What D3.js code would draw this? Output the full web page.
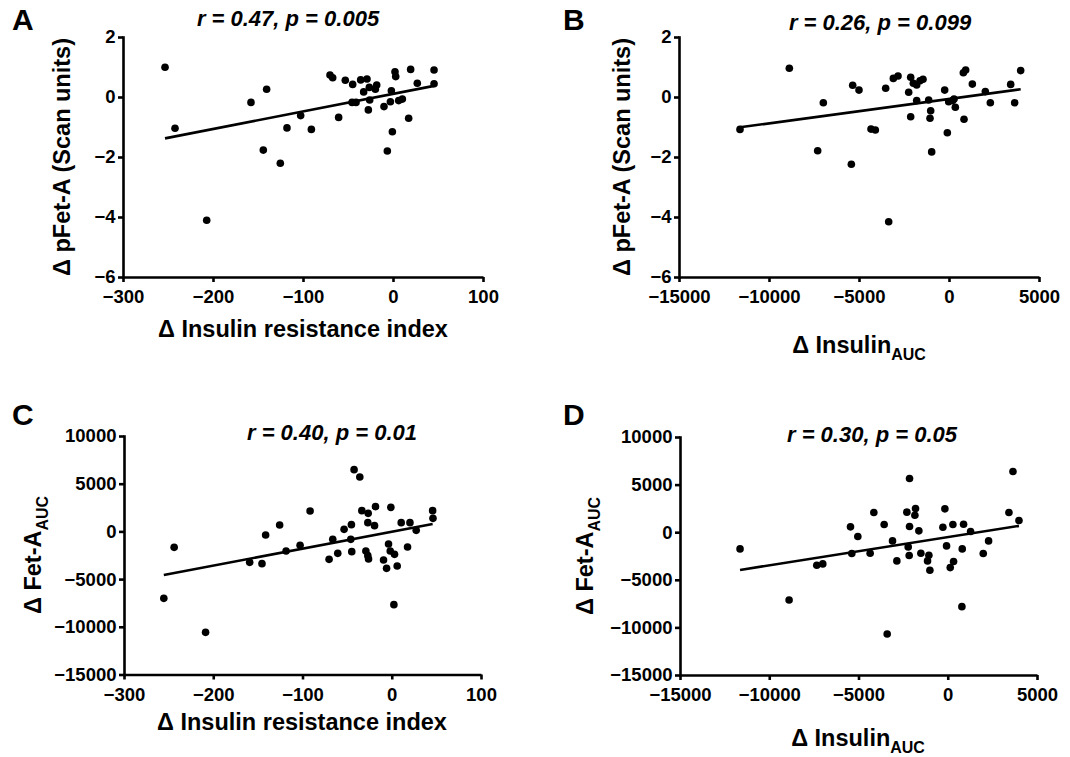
<!DOCTYPE html>
<html><head><meta charset="utf-8">
<script src="https://cdn.jsdelivr.net/npm/d3@7"></script>
<style>
body{margin:0;background:#fff;}
text{font-family:"Liberation Sans",Arial,sans-serif;font-weight:bold;fill:#000;}
</style></head>
<body><svg id="c" width="1070" height="757"></svg>
<script>
// ---- data ----
const irA = [-253.3,-242.2,-207.0,-157.8,-140.4,-144.1,-125.2,-117.8,-102.6,-90.7,-70.0,-67.0,-60.4,-53.0,-44.8,-45.5,-41.1,-35.9,-28.9,-32.6,-26.3,-18.1,-19.6,-25.9,-27.4,-10.0,-6.3,-1.8,-2.9,-0.7,2.2,3.0,6.3,10.4,17.4,19.6,27.0,45.6,45.6];
const pfetA = [0.99,-1.04,-4.11,-0.18,0.26,-1.77,-2.21,-1.03,-0.62,-1.08,0.73,0.64,-0.68,0.56,0.42,-0.18,-0.18,0.57,0.60,0.17,0.32,0.40,0.26,-0.10,-0.43,-0.32,-1.80,0.21,-0.16,-1.16,0.84,0.68,-0.12,-0.07,-0.71,0.92,0.46,0.90,0.44];
const fitA = [[-253.3,-1.38],[45.6,0.37]];

const aucB = [-11611,-8870,-6981,-7296,-5425,-5351,-5000,-4333,-4092,-3518,-3351,-3092,-2832,-2240,-2129,-2129,-1981,-1796,-1610,-1444,-1796,-1129,-1018,-1055,-962,-240,-92,-18,204,352,278,797,926,834,1297,2019,2297,3427,3649,3982];
const pfetB = [-1.08,0.96,-0.19,-1.79,-2.24,0.39,0.23,-1.07,-1.10,0.29,-4.16,0.62,0.70,0.16,0.66,-0.66,0.46,0.40,0.54,0.59,-0.12,-0.10,-0.46,-0.71,-1.83,0.23,-1.19,-0.16,-0.12,-0.34,-0.07,0.81,0.90,-0.74,0.43,0.18,-0.19,0.42,-0.19,0.88];
const fitB = [[-11611,-1.01],[3982,0.26]];

const irC = [-243.8,-255.4,-208.6,-159.2,-145.4,-141.3,-125.6,-118.4,-102.7,-91.5,-70.2,-66.1,-60.5,-53.4,-45.2,-45.9,-44.8,-42.2,-35.8,-33.5,-26.4,-18.2,-26.8,-19.3,-29.0,-26.0,-26.8,-9.2,-5.8,-3.6,-1.0,-1.7,3.1,2.4,6.1,10.6,20.4,17.7,27.4,45.8,46.2];
const fetC = [-1670,-7016,-10580,-3242,-3382,-377,671,-2054,-1460,2139,-2928,-832,-2299,217,706,-832,-2124,6471,5702,2174,1894,2593,916,601,-2054,-2893,-2543,-2998,-3871,-1320,2523,-2054,-2404,-7680,-3626,916,916,-1635,112,2174,1370];
const fitC = [[-255.4,-4570],[45.8,776]];

const aucD = [-11636,-8888,-7337,-7001,-5449,-5375,-5038,-4347,-4141,-3562,-3393,-3094,-2851,-2290,-2141,-2141,-2216,-2160,-1805,-1842,-1618,-1506,-1057,-1132,-1001,-272,-160,-67,139,326,288,812,793,886,1279,1989,2288,3428,3653,3990];
const fetD = [-1753,-7117,-3471,-3331,561,-2244,-456,-2209,2069,806,-10693,-912,-3015,2104,5645,596,-1543,-2454,2489,1788,140,-2209,-2419,-3015,-3997,526,2454,-1437,-3716,-3085,806,-1753,-7818,841,70,-2244,-912,2069,6381,1227];
const fitD = [[-11636,-3962],[3990,666]];

const ticksIR = [-300,-200,-100,0,100];
const ticksAUC = [-15000,-10000,-5000,0,5000];
const ticksPfet = [-6,-4,-2,0,2];
const ticksFet = [-15000,-10000,-5000,0,5000,10000];

const letters = ["A","B","C","D"];
const stats = ["r = 0.47, p = 0.005","r = 0.26, p = 0.099","r = 0.40, p = 0.01","r = 0.30, p = 0.05"];

// ---- layout ----
const svg = d3.select("#c");
const panels = [
  {x:irA, y:pfetA, fit:fitA, xd:[-300,100], yd:[-6,2], xt:ticksIR, yt:ticksPfet,
   px:[123,483], py:[277,37], letter:[12,30], stat:[288,26], ylab:[62,157], xlab:[303,337],
   xtitle:[["Δ Insulin resistance index",""]], ytitle:[["Δ pFet-A (Scan units)",""]]},
  {x:aucB, y:pfetB, fit:fitB, xd:[-15000,5000], yd:[-6,2], xt:ticksAUC, yt:ticksPfet,
   px:[679,1039], py:[277,37], letter:[563,30], stat:[880,30], ylab:[622,157], xlab:[859,353],
   xtitle:[["Δ Insulin",""],["AUC","sub"]], ytitle:[["Δ pFet-A (Scan units)",""]]},
  {x:irC, y:fetC, fit:fitC, xd:[-300,100], yd:[-15000,10000], xt:ticksIR, yt:ticksFet,
   px:[124,481], py:[674.5,436], letter:[12,425], stat:[332,440], ylab:[33,555], xlab:[302,730],
   xtitle:[["Δ Insulin resistance index",""]], ytitle:[["Δ Fet-A",""],["AUC","sub"]]},
  {x:aucD, y:fetD, fit:fitD, xd:[-15000,5000], yd:[-15000,10000], xt:ticksAUC, yt:ticksFet,
   px:[680,1037], py:[675,437], letter:[563,425], stat:[872,442], ylab:[585,556], xlab:[858,746],
   xtitle:[["Δ Insulin",""],["AUC","sub"]], ytitle:[["Δ Fet-A",""],["AUC","sub"]]}
];

function addRich(sel, parts, size){
  parts.forEach(([t,k])=>{
    const ts = sel.append("tspan").text(t);
    if(k==="sub"){ ts.attr("font-size", size*0.68).attr("dy", size*0.28); }
  });
}

panels.forEach((p,i)=>{
  const xs = d3.scaleLinear().domain(p.xd).range(p.px);
  const ys = d3.scaleLinear().domain(p.yd).range(p.py);
  const g = svg.append("g");

  const xa = g.append("g").attr("transform",`translate(0,${p.py[0]})`)
    .call(d3.axisBottom(xs).tickValues(p.xt).tickSize(5).tickSizeOuter(0).tickPadding(8).tickFormat(d3.format("d")));
  const ya = g.append("g").attr("transform",`translate(${p.px[0]},0)`)
    .call(d3.axisLeft(ys).tickValues(p.yt).tickSize(5).tickSizeOuter(0).tickPadding(2.5).tickFormat(d3.format("d")));
  [xa,ya].forEach(a=>{
    a.selectAll("path,line").attr("stroke","#000").attr("stroke-width",2.6);
    a.selectAll("text").attr("font-size",18.5).attr("font-family","Liberation Sans, Arial, sans-serif").attr("font-weight","bold").attr("fill","#000");
  });
  ya.select(".domain").attr("stroke-linecap","square");

  // regression line
  g.append("line")
    .attr("x1",xs(p.fit[0][0])).attr("y1",ys(p.fit[0][1]))
    .attr("x2",xs(p.fit[1][0])).attr("y2",ys(p.fit[1][1]))
    .attr("stroke","#000").attr("stroke-width",2.6);

  // points
  g.selectAll("circle.pt").data(p.x.map((v,j)=>[v,p.y[j]])).enter().append("circle")
    .attr("class","pt").attr("cx",d=>xs(d[0])).attr("cy",d=>ys(d[1])).attr("r",3.8).attr("fill","#000");

  // panel letter
  svg.append("text").attr("x",p.letter[0]).attr("y",p.letter[1]).attr("font-size",30).text(letters[i]);
  // stats
  svg.append("text").attr("x",p.stat[0]).attr("y",p.stat[1]).attr("text-anchor","middle")
    .attr("font-size",22).attr("font-style","italic").text(stats[i]);
  // x title
  const xt = svg.append("text").attr("x",p.xlab[0]).attr("y",p.xlab[1]).attr("text-anchor","middle").attr("font-size",23.5);
  addRich(xt, p.xtitle, 23.5);
  // y title
  const yt = svg.append("text").attr("transform",`translate(${p.ylab[0]},${p.ylab[1]}) rotate(-90)`)
    .attr("text-anchor","middle").attr("dy","0.36em").attr("font-size",23.5);
  addRich(yt, p.ytitle, 23.5);
});
</script></body></html>
